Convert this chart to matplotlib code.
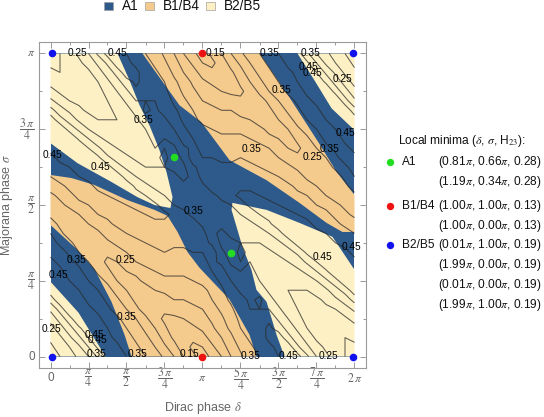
import numpy as np
import matplotlib
matplotlib.use("Agg")
import matplotlib.pyplot as plt
from matplotlib.patches import Rectangle, Polygon
from matplotlib.lines import Line2D

plt.rcParams['font.family'] = ['Liberation Sans', 'DejaVu Sans']
plt.rcParams['mathtext.fontset'] = 'stix'

# ---------------- data (angles in units of pi) ----------------
regions = ["A1", "B1/B4", "B2/B5"]
region_colors = ["#2d5a8a", "#f5ca8d", "#fdf0c4"]

# H23 on a grid: delta = 0..2 (33 columns), sigma = 0..1 (33 rows), in units of 0.01
grid_delta = np.linspace(0, 2, 33)
grid_sigma = np.linspace(0, 1, 33)
H23_x100 = [
    [19, 20, 23, 26, 30, 36, 42, 42, 40, 38, 35, 33, 29, 25, 20, 16, 13, 16, 20, 25, 29, 33, 35, 38, 40, 42, 42, 36, 30, 26, 23, 20, 19],
    [19, 22, 25, 29, 35, 41, 43, 41, 38, 36, 33, 30, 26, 22, 17, 14, 15, 19, 23, 27, 31, 34, 37, 39, 41, 43, 36, 31, 27, 24, 21, 20, 19],
    [21, 24, 29, 34, 40, 44, 41, 39, 37, 34, 31, 28, 23, 19, 15, 16, 18, 22, 25, 29, 33, 36, 38, 41, 43, 37, 32, 28, 24, 22, 21, 20, 21],
    [23, 28, 33, 39, 44, 42, 40, 37, 35, 32, 29, 25, 21, 17, 17, 19, 21, 24, 28, 31, 35, 38, 38, 41, 38, 33, 29, 25, 23, 22, 21, 22, 23],
    [27, 32, 38, 45, 43, 41, 38, 36, 33, 30, 26, 22, 19, 19, 20, 22, 23, 26, 29, 33, 36, 38, 36, 39, 34, 30, 26, 24, 22, 22, 23, 24, 27],
    [31, 37, 45, 43, 41, 39, 36, 33, 30, 26, 23, 20, 21, 22, 23, 24, 25, 28, 31, 34, 38, 35, 35, 35, 31, 27, 25, 23, 23, 24, 25, 28, 31],
    [37, 44, 44, 42, 39, 37, 34, 31, 27, 24, 21, 22, 23, 25, 25, 26, 27, 30, 33, 36, 37, 34, 36, 32, 28, 26, 24, 24, 24, 26, 29, 32, 37],
    [43, 44, 42, 40, 38, 35, 32, 28, 25, 22, 23, 25, 26, 27, 28, 28, 29, 31, 34, 38, 34, 33, 33, 29, 27, 25, 25, 25, 27, 29, 33, 37, 43],
    [45, 42, 40, 38, 35, 32, 29, 25, 22, 24, 26, 28, 29, 29, 29, 30, 31, 33, 36, 35, 31, 33, 30, 28, 26, 26, 26, 28, 30, 34, 38, 44, 45],
    [43, 41, 38, 36, 33, 29, 26, 23, 25, 26, 29, 30, 31, 31, 31, 31, 32, 35, 37, 32, 30, 31, 29, 27, 27, 27, 29, 31, 35, 39, 45, 44, 43],
    [41, 39, 36, 34, 30, 27, 24, 25, 27, 30, 31, 33, 33, 33, 33, 33, 34, 36, 34, 29, 30, 30, 28, 28, 28, 30, 32, 36, 40, 45, 44, 42, 41],
    [39, 37, 34, 30, 27, 25, 26, 28, 30, 32, 33, 34, 35, 34, 34, 35, 35, 38, 31, 28, 31, 29, 29, 29, 31, 33, 36, 41, 44, 43, 42, 41, 39],
    [37, 34, 31, 28, 25, 27, 29, 31, 33, 34, 35, 36, 36, 36, 36, 36, 37, 34, 29, 29, 30, 30, 30, 32, 34, 37, 42, 44, 43, 42, 40, 39, 37],
    [35, 31, 28, 26, 27, 29, 32, 33, 35, 36, 37, 38, 38, 38, 37, 38, 37, 31, 29, 31, 31, 31, 33, 35, 38, 43, 43, 42, 41, 40, 38, 37, 35],
    [32, 29, 26, 28, 30, 32, 34, 36, 37, 38, 38, 39, 39, 39, 39, 37, 34, 30, 31, 31, 32, 34, 36, 39, 43, 42, 41, 41, 39, 38, 36, 34, 32],
    [29, 27, 28, 30, 33, 35, 36, 37, 38, 39, 40, 41, 41, 39, 36, 34, 31, 31, 32, 33, 35, 37, 40, 42, 41, 41, 40, 39, 38, 36, 34, 31, 29],
    [27, 29, 31, 34, 35, 37, 38, 39, 40, 41, 42, 41, 38, 35, 34, 33, 31, 33, 34, 35, 38, 41, 42, 41, 40, 39, 38, 37, 35, 34, 31, 29, 27],
    [29, 31, 34, 36, 38, 39, 40, 41, 41, 42, 40, 37, 35, 33, 32, 31, 31, 34, 36, 39, 41, 41, 40, 39, 38, 37, 36, 35, 33, 30, 28, 27, 29],
    [32, 34, 36, 38, 39, 41, 41, 42, 43, 39, 36, 34, 32, 31, 31, 30, 34, 37, 39, 39, 39, 39, 38, 38, 37, 36, 34, 32, 30, 28, 26, 29, 32],
    [35, 37, 38, 40, 41, 42, 43, 43, 38, 35, 33, 31, 31, 31, 29, 31, 37, 38, 37, 38, 38, 38, 37, 36, 35, 33, 32, 29, 27, 26, 28, 31, 35],
    [37, 39, 40, 42, 43, 44, 42, 37, 34, 32, 30, 30, 30, 29, 29, 34, 37, 36, 36, 36, 36, 36, 35, 34, 33, 31, 29, 27, 25, 28, 31, 34, 37],
    [39, 41, 42, 43, 44, 41, 36, 33, 31, 29, 29, 29, 31, 28, 31, 38, 35, 35, 34, 34, 35, 34, 33, 32, 30, 28, 26, 25, 27, 30, 34, 37, 39],
    [41, 42, 44, 45, 40, 36, 32, 30, 28, 28, 28, 30, 30, 29, 34, 36, 34, 33, 33, 33, 33, 33, 31, 30, 27, 25, 24, 27, 30, 34, 36, 39, 41],
    [43, 44, 45, 39, 35, 31, 29, 27, 27, 27, 29, 31, 30, 32, 37, 35, 32, 31, 31, 31, 31, 30, 29, 26, 25, 23, 26, 29, 33, 36, 38, 41, 43],
    [45, 44, 38, 34, 30, 28, 26, 26, 26, 28, 30, 33, 31, 35, 36, 33, 31, 30, 29, 29, 29, 28, 26, 24, 22, 25, 29, 32, 35, 38, 40, 42, 45],
    [43, 37, 33, 29, 27, 25, 25, 25, 27, 29, 33, 33, 34, 38, 34, 31, 29, 28, 28, 27, 26, 25, 23, 22, 25, 28, 32, 35, 38, 40, 42, 44, 43],
    [37, 32, 29, 26, 24, 24, 24, 26, 28, 32, 36, 34, 37, 36, 33, 30, 27, 26, 25, 25, 23, 22, 21, 24, 27, 31, 34, 37, 39, 42, 44, 44, 37],
    [31, 28, 25, 24, 23, 23, 25, 27, 31, 35, 35, 35, 38, 34, 31, 28, 25, 24, 23, 22, 21, 20, 23, 26, 30, 33, 36, 39, 41, 43, 45, 37, 31],
    [27, 24, 23, 22, 22, 24, 26, 30, 34, 39, 36, 38, 36, 33, 29, 26, 23, 22, 20, 19, 19, 22, 26, 30, 33, 36, 38, 41, 43, 45, 38, 32, 27],
    [23, 22, 21, 22, 23, 25, 29, 33, 38, 41, 38, 38, 35, 31, 28, 24, 21, 19, 17, 17, 21, 25, 29, 32, 35, 37, 40, 42, 44, 39, 33, 28, 23],
    [21, 20, 21, 22, 24, 28, 32, 37, 43, 41, 38, 36, 33, 29, 25, 22, 18, 16, 15, 19, 23, 28, 31, 34, 37, 39, 41, 44, 40, 34, 29, 24, 21],
    [19, 20, 21, 24, 27, 31, 36, 43, 41, 39, 37, 34, 31, 27, 23, 19, 15, 14, 17, 22, 26, 30, 33, 36, 38, 41, 43, 41, 35, 29, 25, 22, 19],
    [19, 20, 23, 26, 30, 36, 42, 42, 40, 38, 35, 33, 29, 25, 20, 16, 13, 16, 20, 25, 29, 33, 35, 38, 40, 42, 42, 36, 30, 26, 23, 20, 19],
]

# region outlines (delta, sigma); A1 fills the rest
light_tl_d = [0, .441, .520, .586, .651, .717, .763, .803, .789, .684, .572, .401, .178, 0]
light_tl_s = [1, 1, .911, .829, .763, .681, .609, .526, .490, .500, .526, .576, .638, .704]
light_tr_d = [1.625, 2, 2, 1.849, 1.737]
light_tr_s = [1, 1, .747, .819, .911]
light_br_d = [1.197, 1.421, 1.638, 1.855, 1.947, 2, 2, 1.539, 1.487, 1.421, 1.355, 1.322, 1.263, 1.224, 1.191]
light_br_s = [.507, .484, .441, .395, .326, .286, 0, 0, .072, .181, .220, .286, .362, .428, .484]
light_bl_d = [0, 0, .362, .184]
light_bl_s = [.247, 0, 0, .145]
orange_tr_d = [.605, 1.375, 1.572, 1.770, 1.882, 2, 2, 1.921, 1.816, 1.638, 1.421, 1.178, .993, .849, .717]
orange_tr_s = [1, 1, .855, .701, .609, .533, .411, .411, .441, .507, .582, .648, .773, .829, .921]
orange_bl_d = [0, .138, .289, .507, .684, .770, .836, .901, .980, 1.178, 1.309, 1.355,
               .533, .487, .401, .289, .178, 0]
orange_bl_s = [.599, .589, .566, .516, .484, .464, .411, .345, .293, .188, .072, 0,
               0, .072, .181, .289, .352, .434]

# minima
min_label = ["A1", "A1", "B1/B4", "B1/B4", "B2/B5", "B2/B5", "B2/B5", "B2/B5"]
min_d = [0.81, 1.19, 1.00, 1.00, 0.01, 1.99, 0.01, 1.99]
min_s = [0.66, 0.34, 1.00, 0.00, 1.00, 0.00, 0.00, 1.00]
min_h = [0.28, 0.28, 0.13, 0.13, 0.19, 0.19, 0.19, 0.19]
min_colors = {"A1": "#22dd22", "B1/B4": "#ee1111", "B2/B5": "#1111ee"}

levels = [0.15, 0.20, 0.25, 0.30, 0.35, 0.40, 0.45, 0.50]

lab_val = ([0.15] * 2 + [0.25] * 6 + [0.35] * 12 + [0.45] * 12)
lab_d = [1.085, .915,
         .178, 1.92, 1.72, .49, .007, 1.83,
         1.44, 1.71, 1.52, 1.835, 1.32, .61, .17, .50, .30, .57, .94, 1.315,
         .44, 1.70, 1.72, 1.94, .33, .013, .05, .29, .31, 1.565, 1.79, 1.98]
lab_s = [1.0, .007,
         1.0, .915, .658, .32, .09, .003,
         1.0, 1.0, .878, .684, .684, .78, .32, .13, .007, .007, .48, .003,
         1.0, .955, .934, .737, .625, .665, .27, .07, .053, .003, .33, .36]

H = np.array(H23_x100, dtype=float) / 100.0

# ---------------- figure ----------------
W, Hh = 544, 417
fig = plt.figure(figsize=(W / 100, Hh / 100), dpi=100)
ax = fig.add_axes([39 / W, 1 - 368 / Hh, (366 - 39) / W, (368 - 42) / Hh])
pad_d, pad_s = 11.5 / 152, 11.5 / 304
ax.set_xlim(-pad_d, 2 + pad_d)
ax.set_ylim(-pad_s, 1 + pad_s)

ax.add_patch(Rectangle((0, 0), 2, 1, facecolor=region_colors[0], edgecolor='none', zorder=1))
shapes = [(orange_tr_d, orange_tr_s, 1), (orange_bl_d, orange_bl_s, 1),
          (light_tl_d, light_tl_s, 2), (light_tr_d, light_tr_s, 2),
          (light_br_d, light_br_s, 2), (light_bl_d, light_bl_s, 2)]
for ds, ss, ci in shapes:
    ax.add_patch(Polygon(list(zip(ds, ss)), closed=True, facecolor=region_colors[ci],
                         edgecolor='none', zorder=2))

ax.contour(grid_delta, grid_sigma, H, levels=levels, colors='#2a2a2a', linewidths=0.75,
           alpha=0.75, zorder=3)

for val, d, s in zip(lab_val, lab_d, lab_s):
    ax.text(d, s, f"{val:.2f}", fontsize=7.3, ha='center', va='center', color='black', zorder=5)

for lab, d, s in zip(min_label, min_d, min_s):
    ax.scatter([d], [s], s=30, color=min_colors[lab], zorder=6, clip_on=False, linewidths=0)

# axes styling
for sp in ax.spines.values():
    sp.set_color('#9a9a9a')
    sp.set_linewidth(0.8)
ax.set_xticks([i * 0.25 for i in range(9)])
ax.set_xticks([i * 0.125 for i in range(17)], minor=True)
ax.set_yticks([i * 0.25 for i in range(5)])
ax.set_yticks([i * 0.125 for i in range(9)], minor=True)
xl = ["0", r"$\dfrac{\pi}{4}$", r"$\dfrac{\pi}{2}$", r"$\dfrac{3\,\pi}{4}$", r"$\pi$",
      r"$\dfrac{5\,\pi}{4}$", r"$\dfrac{3\,\pi}{2}$", r"$\dfrac{7\,\pi}{4}$", r"$2\,\pi$"]
yl = ["0", r"$\dfrac{\pi}{4}$", r"$\dfrac{\pi}{2}$", r"$\dfrac{3\,\pi}{4}$", r"$\pi$"]
ax.set_xticklabels(xl)
ax.set_yticklabels(yl)
ax.tick_params(which='both', direction='in', top=True, right=True, color='#9a9a9a',
               labelcolor='#666666', labelsize=8.5, width=0.7)
ax.tick_params(which='major', length=4)
ax.tick_params(which='minor', length=2.5)
ax.tick_params(axis='x', pad=7.5)
ax.tick_params(axis='y', pad=3)
for lab in ax.get_xticklabels():
    lab.set_va('center')
for lab in ax.get_yticklabels():
    lab.set_va('center')
ax.set_xlabel(r"Dirac phase $\delta$", color='#666666', fontsize=9, labelpad=6)
ax.set_ylabel(r"Majorana phase $\sigma$", color='#666666', fontsize=9, labelpad=3)

# legend at top
def fx(px):
    return px / W
def fy(py):
    return 1 - py / Hh
leg_sq = [104, 145, 206]
leg_tx = [122, 163, 224]
for (px, tx, name, col) in zip(leg_sq, leg_tx, regions, region_colors):
    fig.add_artist(Rectangle((fx(px), fy(10)), 8.5 / W, 8.5 / Hh, transform=fig.transFigure,
                             facecolor=col, edgecolor='#a0a0a0', linewidth=0.5))
    fig.text(fx(tx), fy(6), name, fontsize=9.8, va='center', ha='left', color='#111111')

# minima annotation
fig.text(fx(398), fy(141), r"Local minima ($\delta$, $\sigma$, H$_{23}$):", fontsize=8.6,
         va='center', ha='left', color='#111111')
rows_y = [162, 182, 206, 226, 245, 265, 285, 305]
prev = None
for lab, d, s, h, ry in zip(min_label, min_d, min_s, min_h, rows_y):
    if lab != prev:
        fig.add_artist(Line2D([fx(390)], [fy(ry)], transform=fig.transFigure, marker='o',
                              markersize=5.3, markerfacecolor=min_colors[lab],
                              markeredgewidth=0, linestyle='none'))
        fig.text(fx(402), fy(ry), lab, fontsize=8.6, va='center', ha='left', color='#111111')
        prev = lab
    fig.text(fx(438), fy(ry), f"({d:.2f}$\\pi$, {s:.2f}$\\pi$, {h:.2f})", fontsize=8.6,
             va='center', ha='left', color='#111111')

fig.savefig("out.png", dpi=100)
